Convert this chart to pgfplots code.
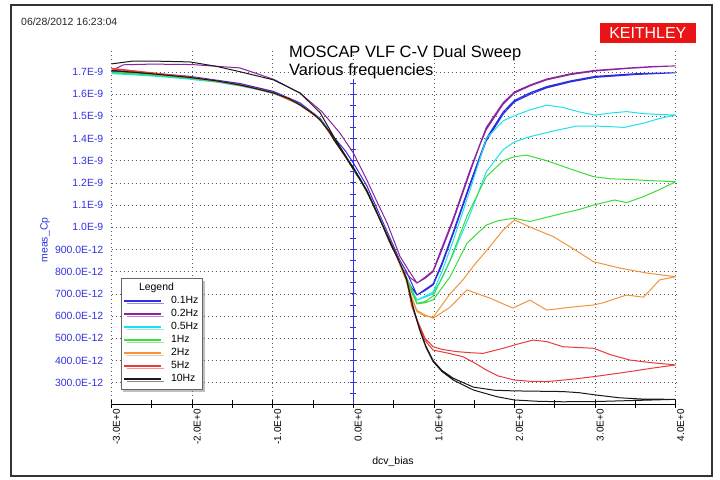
\documentclass[border=0pt]{standalone}
\usepackage{pgfplots}
\pgfplotsset{compat=1.18}
\usepackage{fontspec}
\setmainfont{Liberation Sans}
\usetikzlibrary{shadows}
\definecolor{cA}{RGB}{45,45,225}
\definecolor{cB}{RGB}{140,35,160}
\definecolor{cC}{RGB}{30,225,235}
\definecolor{cD}{RGB}{60,220,60}
\definecolor{cE}{RGB}{240,150,60}
\definecolor{cF}{RGB}{230,60,60}
\definecolor{cG}{RGB}{25,25,25}
\definecolor{labblue}{RGB}{50,50,230}
\definecolor{keithred}{RGB}{235,20,20}
\begin{document}
\begin{tikzpicture}[x=1bp,y=1bp]
\path[use as bounding box] (0,0) rectangle (720,480);
\fill[white] (0,0) rectangle (720,480);
\draw[line width=1.5bp, black!80] (11,4) rectangle (712,475);
\node[anchor=west, inner sep=0pt, font=\fontsize{10.5}{12}\selectfont, text=black!85] at (21,458) {06/28/2012 16:23:04};
\node[fill=keithred, text=white, minimum width=96bp, minimum height=20bp, inner sep=0pt, anchor=north east, font=\fontsize{16}{18}\selectfont] at (696,457) {KEITHLEY};
\node[anchor=base west, inner sep=0pt, font=\fontsize{16.5}{18}\selectfont] at (289,422.3) {MOSCAP VLF C-V Dual Sweep};
\node[anchor=base west, inner sep=0pt, font=\fontsize{16.5}{18}\selectfont] at (289,404) {Various frequencies};
\node[font=\fontsize{10.5}{12}\selectfont] at (393,18) {dcv\_bias};
\node[rotate=90, text=labblue, font=\fontsize{10.5}{12}\selectfont] at (45,240) {meas\_Cp};
\begin{axis}[
  at={(111.5bp,76bp)}, anchor=south west, scale only axis,
  width=564.2bp, height=354.3bp,
  xmin=-3, xmax=4, ymin=0.204, ymax=1.8,
  axis x line*=bottom, axis y line*=left,
  x axis line style={-, black, line width=0.9bp},
  y axis line style={-, black!65, line width=0.7bp, dash pattern=on 0.8bp off 3.2bp},
  xtick={-3,-2,-1,0,1,2,3,4},
  minor xtick={-2.5,-1.5,-0.5,0.5,1.5,2.5,3.5},
  xticklabels={-3.0E+0,-2.0E+0,-1.0E+0,0.0E+0,1.0E+0,2.0E+0,3.0E+0,4.0E+0},
  ytick={0.3,0.4,0.5,0.6,0.7,0.8,0.9,1.0,1.1,1.2,1.3,1.4,1.5,1.6,1.7},
  yticklabels={300.0E-12,400.0E-12,500.0E-12,600.0E-12,700.0E-12,800.0E-12,900.0E-12,1.0E-9,1.1E-9,1.2E-9,1.3E-9,1.4E-9,1.5E-9,1.6E-9,1.7E-9},
  tick align=center, major tick length=8bp, minor tick length=8bp,
  xtick style={black, line width=0.8bp},
  ytick style={draw=none},
  xticklabel style={rotate=90, anchor=east, font=\fontsize{10}{12}\selectfont, inner sep=1bp, yshift=-5bp},
  yticklabel style={text=labblue, font=\fontsize{10.5}{12}\selectfont, inner sep=1bp, xshift=-3bp},
  xmajorgrids, ymajorgrids,
  major grid style={black!65, line width=0.7bp, dash pattern=on 0.8bp off 3.2bp},
  legend cell align=left,
  legend image code/.code={\draw[#1, line width=1.3bp] (0bp,0bp) -- (37bp,0bp);},
  legend style={at={(0.016,0.356)}, anchor=north west, draw=black!60, fill=white,
    drop shadow={shadow xshift=2.5bp, shadow yshift=-2.5bp, opacity=0.5, fill=black!50},
    font=\fontsize{10.5}{12}\selectfont, inner xsep=3bp, inner ysep=4bp,
    row sep=1bp, /tikz/column 1/.style={column sep=8bp},
    nodes={inner sep=1bp, text height=7.6bp, text depth=2.4bp}},
  every axis plot/.append style={line width=1bp},
]
\addlegendimage{empty legend}
\addlegendentry{\hspace*{-32bp}Legend}
\addplot[labblue, line width=0.8bp, forget plot] coordinates {(0,0.204) (0,1.665)};
\addplot[labblue, only marks, mark=-, mark size=3bp, mark options={line width=0.8bp}, forget plot] coordinates {
(0,0.25) (0,0.3) (0,0.35) (0,0.4) (0,0.45) (0,0.5) (0,0.55) (0,0.6) (0,0.65) (0,0.7) (0,0.75) (0,0.8) (0,0.85) (0,0.9) (0,0.95) (0,1.0) (0,1.05) (0,1.1) (0,1.15) (0,1.2) (0,1.25) (0,1.3) (0,1.35) (0,1.4) (0,1.45) (0,1.5) (0,1.55) (0,1.6) (0,1.65)};
% 0.1 Hz
\addplot[cA] coordinates {
(-3,1.705) (-2.7,1.697) (-2.4,1.688) (-2.03,1.676) (-1.7,1.662) (-1.41,1.644) (-1.2,1.628) (-0.99,1.607) (-0.8,1.582) (-0.66,1.552) (-0.5,1.515) (-0.41,1.485) (-0.3,1.432) (-0.24,1.396) (-0.1,1.322) (0,1.262) (0.1,1.205) (0.17,1.162) (0.27,1.085) (0.37,1.003) (0.45,0.935) (0.54,0.868) (0.6,0.818) (0.66,0.77) (0.72,0.73) (0.79,0.695) (0.89,0.715) (0.99,0.74) (1.1,0.83) (1.24,0.97) (1.45,1.19) (1.65,1.39) (1.86,1.51) (2.0,1.565) (2.2,1.60) (2.4,1.628) (2.7,1.655) (3.0,1.675) (3.5,1.688) (4,1.696)
(3.5,1.692) (3.0,1.680) (2.7,1.660) (2.4,1.634) (2.2,1.607) (2.0,1.572) (1.86,1.52) (1.65,1.40) (1.45,1.20) (1.24,0.98) (1.1,0.84) (0.99,0.745) (0.89,0.72) (0.79,0.695) (0.66,0.80) (0.58,0.85) (0.42,0.98) (0.17,1.185) (0,1.29) (-0.1,1.345) (-0.24,1.405) (-0.41,1.49) (-0.66,1.56) (-0.99,1.612) (-1.41,1.648) (-2.03,1.68) (-2.7,1.70) (-3,1.708)};
\addlegendentry{0.1Hz}
% 0.2 Hz
\addplot[cB] coordinates {
(-3,1.702) (-2.7,1.695) (-2.4,1.686) (-2.03,1.674) (-1.7,1.660) (-1.41,1.642) (-1.2,1.626) (-0.99,1.606) (-0.8,1.581) (-0.66,1.551) (-0.5,1.513) (-0.41,1.484) (-0.3,1.431) (-0.24,1.395) (-0.1,1.321) (0,1.262) (0.1,1.205) (0.17,1.161) (0.27,1.084) (0.37,1.003) (0.45,0.935) (0.54,0.868) (0.6,0.818) (0.7,0.775) (0.79,0.749) (0.89,0.77) (0.99,0.80) (1.08,0.88) (1.24,1.03) (1.45,1.25) (1.57,1.37) (1.65,1.44) (1.86,1.555) (2.0,1.605) (2.2,1.638) (2.4,1.664) (2.7,1.688) (3.0,1.704) (3.43,1.716) (3.7,1.722) (4,1.727)
(3.7,1.724) (3.43,1.718) (3.0,1.707) (2.7,1.692) (2.4,1.668) (2.2,1.642) (2.0,1.61) (1.86,1.562) (1.65,1.45) (1.45,1.26) (1.24,1.04) (1.08,0.89) (0.99,0.805) (0.89,0.775) (0.79,0.749) (0.68,0.81) (0.58,0.868) (0.42,1.019) (0.3,1.11) (0.17,1.212) (0,1.335) (-0.165,1.424) (-0.39,1.521) (-0.66,1.604) (-0.99,1.667) (-1.41,1.718) (-2.0,1.733) (-2.5,1.735) (-2.85,1.732) (-3,1.706)};
\addlegendentry{0.2Hz}
% 0.5 Hz
\addplot[cC] coordinates {
(-3,1.692) (-2.7,1.686) (-2.4,1.679) (-2.03,1.667) (-1.7,1.654) (-1.41,1.637) (-1.2,1.621) (-0.99,1.602) (-0.8,1.577) (-0.66,1.549) (-0.5,1.510) (-0.41,1.481) (-0.3,1.430) (-0.24,1.393) (-0.1,1.320) (0,1.262) (0.1,1.205) (0.17,1.162) (0.27,1.085) (0.37,1.006) (0.45,0.94) (0.54,0.872) (0.6,0.822) (0.66,0.775) (0.72,0.72) (0.79,0.672) (0.89,0.69) (0.99,0.708) (1.1,0.80) (1.24,0.94) (1.45,1.17) (1.65,1.40) (1.86,1.48) (2.0,1.503) (2.2,1.53) (2.4,1.550) (2.6,1.54) (2.8,1.52) (3.0,1.505) (3.2,1.515) (3.39,1.521) (3.6,1.512) (3.8,1.508) (4,1.506)
(3.8,1.49) (3.6,1.469) (3.36,1.450) (3.1,1.455) (2.77,1.456) (2.5,1.435) (2.19,1.408) (2.0,1.385) (1.86,1.35) (1.65,1.25) (1.45,1.06) (1.24,0.88) (1.1,0.77) (0.99,0.70) (0.89,0.685) (0.79,0.672) (0.7,0.74) (0.6,0.825) (0.45,0.945) (0.27,1.09) (0.1,1.21) (0,1.268) (-0.24,1.398) (-0.41,1.486) (-0.66,1.553) (-0.99,1.604) (-1.41,1.640) (-2.03,1.670) (-2.7,1.690) (-3,1.694)};
\addlegendentry{0.5Hz}
% 1 Hz
\addplot[cD] coordinates {
(-3,1.698) (-2.7,1.691) (-2.4,1.683) (-2.03,1.671) (-1.7,1.657) (-1.41,1.639) (-1.2,1.623) (-0.99,1.604) (-0.8,1.579) (-0.66,1.550) (-0.5,1.511) (-0.41,1.482) (-0.3,1.431) (-0.24,1.394) (-0.1,1.320) (0,1.262) (0.1,1.205) (0.17,1.161) (0.27,1.084) (0.37,1.005) (0.45,0.938) (0.54,0.870) (0.6,0.820) (0.66,0.772) (0.72,0.71) (0.79,0.655) (0.89,0.66) (0.99,0.673) (1.2,0.777) (1.41,0.928) (1.65,1.010) (1.8,1.03) (1.99,1.041) (2.19,1.026) (2.4,1.045) (2.6,1.063) (2.8,1.08) (2.98,1.100) (3.24,1.123) (3.39,1.111) (3.6,1.138) (3.8,1.17) (4,1.205)
(3.7,1.210) (3.39,1.216) (3.2,1.218) (2.98,1.228) (2.7,1.262) (2.4,1.30) (2.15,1.325) (2.0,1.318) (1.86,1.30) (1.65,1.228) (1.41,1.05) (1.2,0.85) (0.99,0.69) (0.89,0.665) (0.79,0.658) (0.7,0.74) (0.6,0.823) (0.45,0.942) (0.27,1.088) (0.1,1.208) (0,1.266) (-0.24,1.397) (-0.41,1.485) (-0.66,1.552) (-0.99,1.605) (-1.41,1.641) (-2.03,1.672) (-2.7,1.692) (-3,1.699)};
\addlegendentry{1Hz}
% 2 Hz
\addplot[cE] coordinates {
(-3,1.712) (-2.7,1.700) (-2.4,1.688) (-2.03,1.674) (-1.7,1.659) (-1.41,1.640) (-1.2,1.623) (-0.99,1.604) (-0.8,1.579) (-0.66,1.550) (-0.5,1.511) (-0.41,1.482) (-0.3,1.431) (-0.24,1.393) (-0.1,1.319) (0,1.261) (0.1,1.204) (0.17,1.160) (0.27,1.083) (0.37,1.003) (0.45,0.935) (0.54,0.866) (0.6,0.81) (0.66,0.755) (0.72,0.68) (0.79,0.62) (0.89,0.60) (0.99,0.595) (1.1,0.65) (1.2,0.70) (1.36,0.763) (1.5,0.83) (1.66,0.898) (1.86,0.988) (2.0,1.033) (2.2,1.00) (2.48,0.958) (2.7,0.91) (2.98,0.845) (3.31,0.816) (3.64,0.794) (4,0.777)
(3.8,0.763) (3.6,0.685) (3.39,0.695) (3.1,0.66) (2.98,0.650) (2.7,0.64) (2.4,0.627) (2.19,0.672) (1.98,0.636) (1.7,0.68) (1.41,0.718) (1.2,0.64) (0.99,0.590) (0.89,0.605) (0.79,0.625) (0.72,0.69) (0.66,0.765) (0.6,0.82) (0.45,0.94) (0.27,1.086) (0.1,1.207) (0,1.265) (-0.24,1.396) (-0.41,1.484) (-0.66,1.551) (-0.99,1.605) (-1.41,1.642) (-2.03,1.676) (-2.7,1.703) (-3,1.715)};
\addlegendentry{2Hz}
% 5 Hz
\addplot[cF] coordinates {
(-3,1.714) (-2.7,1.701) (-2.4,1.689) (-2.03,1.675) (-1.7,1.660) (-1.41,1.641) (-1.2,1.624) (-0.99,1.605) (-0.8,1.580) (-0.66,1.551) (-0.5,1.512) (-0.41,1.483) (-0.3,1.432) (-0.24,1.394) (-0.1,1.320) (0,1.262) (0.1,1.205) (0.17,1.160) (0.27,1.082) (0.37,1.003) (0.45,0.935) (0.54,0.868) (0.6,0.818) (0.66,0.765) (0.72,0.65) (0.79,0.585) (0.89,0.50) (0.99,0.462) (1.1,0.45) (1.28,0.440) (1.45,0.435) (1.61,0.432) (1.86,0.455) (2.05,0.475) (2.23,0.492) (2.4,0.485) (2.6,0.462) (2.98,0.455) (3.2,0.425) (3.43,0.402) (3.7,0.39) (4,0.380)
(3.7,0.365) (3.43,0.350) (3.2,0.338) (2.98,0.327) (2.7,0.315) (2.4,0.305) (2.2,0.306) (2.0,0.312) (1.8,0.33) (1.65,0.357) (1.5,0.39) (1.36,0.417) (1.15,0.435) (0.99,0.447) (0.89,0.49) (0.79,0.58) (0.72,0.65) (0.66,0.77) (0.54,0.872) (0.37,1.006) (0.17,1.163) (0,1.265) (-0.24,1.397) (-0.41,1.485) (-0.66,1.553) (-0.99,1.607) (-1.41,1.643) (-2.03,1.677) (-2.7,1.704) (-3,1.716)};
\addlegendentry{5Hz}
% 10 Hz
\addplot[cG] coordinates {
(-3,1.706) (-2.7,1.698) (-2.4,1.688) (-2.03,1.675) (-1.7,1.660) (-1.41,1.641) (-1.2,1.624) (-0.99,1.605) (-0.8,1.580) (-0.66,1.551) (-0.5,1.512) (-0.41,1.483) (-0.3,1.432) (-0.24,1.394) (-0.1,1.320) (0,1.262) (0.1,1.205) (0.17,1.160) (0.27,1.082) (0.37,1.003) (0.45,0.935) (0.54,0.868) (0.6,0.82) (0.66,0.765) (0.74,0.64) (0.82,0.54) (0.9,0.46) (0.99,0.395) (1.1,0.35) (1.24,0.312) (1.49,0.267) (1.78,0.237) (2.0,0.222) (2.3,0.216) (2.6,0.214) (3.0,0.215) (3.5,0.22) (4,0.225)
(3.6,0.226) (3.3,0.232) (3.0,0.245) (2.8,0.255) (2.6,0.260) (2.2,0.262) (2.0,0.263) (1.75,0.266) (1.49,0.28) (1.24,0.32) (1.1,0.355) (0.99,0.40) (0.9,0.465) (0.82,0.545) (0.74,0.645) (0.66,0.77) (0.54,0.87) (0.37,1.005) (0.17,1.165) (0,1.27) (-0.04,1.29) (-0.24,1.407) (-0.41,1.515) (-0.66,1.605) (-0.99,1.664) (-1.41,1.701) (-1.7,1.725) (-2.03,1.745) (-2.4,1.748) (-2.73,1.749) (-3,1.736)};
\addlegendentry{10Hz}
\end{axis}
\end{tikzpicture}
\end{document}
